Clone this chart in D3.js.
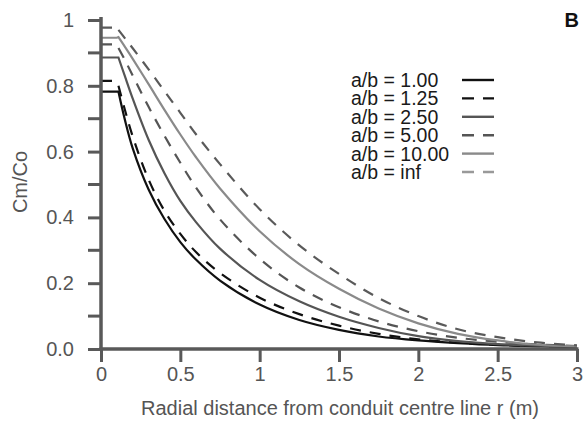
<!DOCTYPE html>
<html>
<head>
<meta charset="utf-8">
<script src="https://cdn.jsdelivr.net/npm/d3@7/dist/d3.min.js"></script>
<style>
  html, body { margin: 0; padding: 0; background: #fff; }
  svg { display: block; font-family: "Liberation Sans", Arial, Helvetica, sans-serif; }
</style>
</head>
<body>
<svg id="chart" width="586" height="421"></svg>
<script>
// ---- data ----
const seriesLabels = ["a/b = 1.00", "a/b = 1.25", "a/b = 2.50", "a/b = 5.00", "a/b = 10.00", "a/b = inf"];
const plateauValues = [0.782, 0.815, 0.886, 0.926, 0.946, 0.977];   // Cm/Co inside conduit (r from 0 to 0.1)
const plateauEnd = 0.1;
const radii = [0.11, 0.15, 0.2, 0.3, 0.4, 0.5, 0.6, 0.75, 1.0, 1.25, 1.5, 1.75, 2.0, 2.25, 2.5, 2.75, 3.0];
const ab100  = [0.782, 0.698, 0.610, 0.485, 0.395, 0.325, 0.271, 0.208, 0.135, 0.088, 0.058, 0.038, 0.026, 0.018, 0.012, 0.0085, 0.006];
const ab125  = [0.800, 0.728, 0.646, 0.515, 0.420, 0.350, 0.294, 0.231, 0.156, 0.106, 0.071, 0.046, 0.0295, 0.019, 0.013, 0.009, 0.0065];
const ab250  = [0.886, 0.830, 0.761, 0.636, 0.534, 0.450, 0.385, 0.305, 0.210, 0.145, 0.098, 0.064, 0.039, 0.024, 0.015, 0.010, 0.007];
const ab500  = [0.915, 0.879, 0.831, 0.736, 0.648, 0.566, 0.490, 0.394, 0.274, 0.187, 0.127, 0.084, 0.054, 0.034, 0.022, 0.014, 0.009];
const ab1000 = [0.948, 0.919, 0.882, 0.805, 0.727, 0.652, 0.582, 0.488, 0.358, 0.258, 0.183, 0.123, 0.078, 0.046, 0.026, 0.013, 0.008];
const abInf  = [0.970, 0.945, 0.914, 0.850, 0.784, 0.718, 0.652, 0.562, 0.425, 0.315, 0.228, 0.155, 0.100, 0.060, 0.036, 0.020, 0.011];
const seriesValues = [ab100, ab125, ab250, ab500, ab1000, abInf];
const xTicks = [0, 0.5, 1, 1.5, 2, 2.5, 3];
const xTickLabels = ["0", "0.5", "1", "1.5", "2", "2.5", "3"];
const yTicks = [0, 0.2, 0.4, 0.6, 0.8, 1];
const yTickLabels = ["0.0", "0.2", "0.4", "0.6", "0.8", "1"];
const yMinorTicks = [0.1, 0.3, 0.5, 0.7, 0.9];
const xTitle = "Radial distance from conduit centre line r (m)";
const yTitle = "Cm/Co";
const panelLabel = "B";

// ---- styles ----
const styles = [
  { color: "#111111", dash: null, legendColor: "#111111" },
  { color: "#111111", dash: "11,9", legendColor: "#111111" },
  { color: "#555555", dash: null, legendColor: "#555555" },
  { color: "#555555", dash: "11,9", legendColor: "#555555" },
  { color: "#8a8a8a", dash: null, legendColor: "#8a8a8a" },
  { color: "#5a5a5a", dash: "11,9", legendColor: "#999999" }
];
const axisColor = "#595959";

const svg = d3.select("#chart");
const x = d3.scaleLinear().domain([0, 3]).range([101, 577]);
const y = d3.scaleLinear().domain([0, 1]).range([349, 20]);

// ---- curves ----
const line = d3.line().x(d => x(d[0])).y(d => y(d[1])).curve(d3.curveCatmullRom.alpha(0.5));
const gLines = svg.append("g");
seriesValues.forEach((vals, i) => {
  const pts = radii.map((r, j) => [r, vals[j]]);
  const curvePath = line(pts);
  const p0 = plateauValues[i];
  const d = "M" + x(0) + "," + y(p0) + "L" + x(plateauEnd) + "," + y(p0) +
            (Math.abs(p0 - vals[0]) < 0.003 ? "L" : "M") + curvePath.slice(1);
  const path = gLines.append("path")
    .attr("d", d)
    .attr("fill", "none")
    .attr("stroke", styles[i].color)
    .attr("stroke-width", 2.2);
  if (styles[i].dash) path.attr("stroke-dasharray", styles[i].dash);
});

// ---- axes ----
const tickLen = 13;
const gx = svg.append("g").attr("transform", `translate(0,${y(0)})`);
gx.call(d3.axisBottom(x).tickValues(xTicks).tickFormat((d, i) => xTickLabels[i]).tickSize(tickLen).tickPadding(5).tickSizeOuter(0));
gx.select(".domain").attr("stroke", axisColor).attr("stroke-width", 3.5).attr("d", `M${x(0) - 1.5},0H${x(3) + 1.5}`);
gx.selectAll(".tick line").attr("stroke", axisColor).attr("stroke-width", 3);
gx.selectAll(".tick text").attr("fill", "#555").attr("font-size", 20).attr("font-family", "Liberation Sans, Arial, sans-serif");

const gy = svg.append("g").attr("transform", `translate(${x(0)},0)`);
gy.call(d3.axisLeft(y).tickValues(yTicks).tickFormat((d, i) => yTickLabels[i]).tickSize(tickLen).tickPadding(14).tickSizeOuter(0));
gy.select(".domain").attr("stroke", axisColor).attr("stroke-width", 3.5).attr("d", `M0,${y(0) + 1.5}V${y(1) - 3}`);
gy.selectAll(".tick line").attr("stroke", axisColor).attr("stroke-width", 3);
gy.selectAll(".tick text").attr("fill", "#555").attr("font-size", 20).attr("font-family", "Liberation Sans, Arial, sans-serif");
gy.selectAll(".minor").data(yMinorTicks).enter().append("line")
  .attr("class", "minor")
  .attr("x1", -tickLen).attr("x2", 0)
  .attr("y1", d => y(d)).attr("y2", d => y(d))
  .attr("stroke", axisColor).attr("stroke-width", 3);

// ---- titles ----
svg.append("text").attr("x", 340).attr("y", 415).attr("text-anchor", "middle")
  .attr("font-size", 20).attr("fill", "#555").text(xTitle);
svg.append("text").attr("transform", "translate(27,182) rotate(-90)").attr("text-anchor", "middle")
  .attr("font-size", 20).attr("fill", "#555").text(yTitle);
svg.append("text").attr("x", 579).attr("y", 27).attr("text-anchor", "end")
  .attr("font-size", 20).attr("font-weight", "bold").attr("fill", "#111").text(panelLabel);

// ---- legend ----
const gLeg = svg.append("g");
seriesLabels.forEach((lab, i) => {
  const cy = 80 + i * 18.4;
  gLeg.append("text").attr("x", 351).attr("y", cy + 7)
    .attr("font-size", 19.5).attr("fill", "#1a1a1a").text(lab);
  const l = gLeg.append("line").attr("x1", 462).attr("x2", 494).attr("y1", cy).attr("y2", cy)
    .attr("stroke", styles[i].legendColor).attr("stroke-width", 2.4);
  if (styles[i].dash) l.attr("stroke-dasharray", "12,9");
});
</script>
</body>
</html>
